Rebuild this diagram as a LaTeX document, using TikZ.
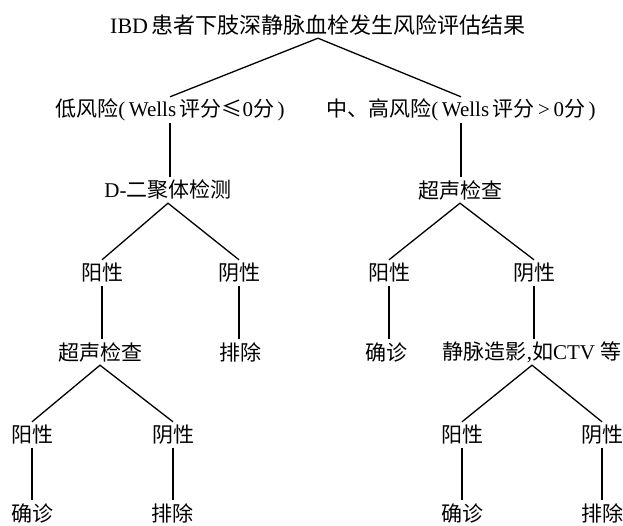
\documentclass[tikz,border=0pt]{standalone}
\usepackage{fontspec}
\setmainfont{Liberation Serif}
\newfontfamily\cjk{Noto Sans CJK SC}
\begin{document}
\begin{tikzpicture}[x=1pt,y=-1pt,
  lbl/.style={inner sep=0pt,minimum height=26pt,font=\fontsize{21pt}{21pt}\selectfont\cjk},
  ttl/.style={lbl,font=\fontsize{22pt}{22pt}\selectfont\cjk},
  conn/.style={line width=1.3pt,black}]
\useasboundingbox (0,0) rectangle (623,525);
% level 1
\node[ttl] (root) at (318,25) {{\rmfamily IBD}\,患者下肢深静脉血栓发生风险评估结果};
% level 2
\node[lbl] (low) at (170,110) {低风险{\rmfamily(\,Wells\,}评分≤{\rmfamily 0}分{\rmfamily\,)}};
\node[lbl] (high) at (461,110) {中、高风险{\rmfamily(\,Wells\,}评分{\rmfamily\,>\,0}分{\rmfamily\,)}};
% level 3
\node[lbl] (dd) at (168,190) {{\rmfamily D-}二聚体检测};
\node[lbl] (us1) at (460,190) {超声检查};
% level 4
\node[lbl] (p1) at (102,273) {阳性};
\node[lbl] (n1) at (239,273) {阴性};
\node[lbl] (p2) at (389,273) {阳性};
\node[lbl] (n2) at (534,273) {阴性};
% level 5
\node[lbl] (us2) at (100,352) {超声检查};
\node[lbl] (ex1) at (240,352) {排除};
\node[lbl] (dx1) at (386,352) {确诊};
\node[lbl] (ven) at (532,352) {静脉造影{\rmfamily,}如{\rmfamily CTV }等};
% level 6
\node[lbl] (p3) at (32,435) {阳性};
\node[lbl] (n3) at (173,435) {阴性};
\node[lbl] (p4) at (462,435) {阳性};
\node[lbl] (n4) at (602,435) {阴性};
% level 7
\node[lbl] (dx2) at (32,513) {确诊};
\node[lbl] (ex2) at (172,513) {排除};
\node[lbl] (dx3) at (462,513) {确诊};
\node[lbl] (ex3) at (602,513) {排除};
% connectors
\draw[conn] (low.north) -- (root.south) -- (high.north);
\draw[conn] (low.south) -- (low.south |- dd.north);
\draw[conn] (high.south) -- (high.south |- us1.north);
\draw[conn] (p1.north) -- (dd.south) -- (n1.north);
\draw[conn] (p2.north) -- (us1.south) -- (n2.north);
\draw[conn] (p1.south) -- (p1.south |- us2.north);
\draw[conn] (n1.south) -- (n1.south |- ex1.north);
\draw[conn] (p2.south) -- (p2.south |- dx1.north);
\draw[conn] (n2.south) -- (n2.south |- ven.north);
\draw[conn] (p3.north) -- (us2.south) -- (n3.north);
\draw[conn] (p4.north) -- (ven.south) -- (n4.north);
\draw[conn] (p3.south) -- (p3.south |- dx2.north);
\draw[conn] (n3.south) -- (n3.south |- ex2.north);
\draw[conn] (p4.south) -- (p4.south |- dx3.north);
\draw[conn] (n4.south) -- (n4.south |- ex3.north);
\end{tikzpicture}
\end{document}
